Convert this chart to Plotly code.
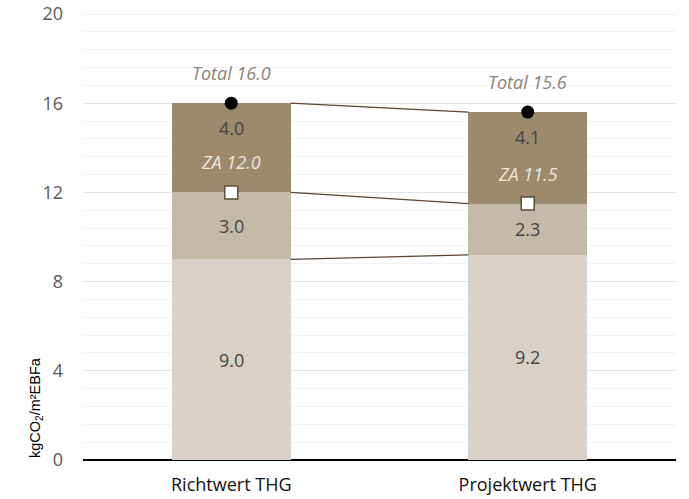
import plotly.graph_objects as go

categories = ["Richtwert THG", "Projektwert THG"]
base_vals = [9.0, 9.2]
mid_vals = [3.0, 2.3]
top_vals = [4.0, 4.1]
za_vals = [12.0, 11.5]
total_vals = [16.0, 15.6]
y_ticks = [0, 4, 8, 12, 16, 20]

colors = ["#d9d1c7", "#c5b9a7", "#9b8a6d"]
FONT = "Open Sans"
xpos = list(range(len(categories)))
bw = 0.4

fig = go.Figure()
for vals, col in zip([base_vals, mid_vals, top_vals], colors):
    fig.add_trace(go.Bar(x=xpos, y=vals, width=bw, marker=dict(color=col, line=dict(width=0)),
                         hoverinfo="skip", showlegend=False))

# connector lines
levels = [base_vals, za_vals, total_vals]
for lv in levels:
    for i in range(len(xpos) - 1):
        fig.add_trace(go.Scatter(x=[xpos[i] + bw / 2, xpos[i + 1] - bw / 2], y=[lv[i], lv[i + 1]],
                                 mode="lines", line=dict(color="#5a4530", width=1.2),
                                 hoverinfo="skip", showlegend=False))

fig.add_trace(go.Scatter(x=xpos, y=za_vals, mode="markers",
                         marker=dict(symbol="square", size=13, color="white",
                                     line=dict(color="#5e4e3c", width=1.5)),
                         showlegend=False, hoverinfo="skip"))
fig.add_trace(go.Scatter(x=xpos, y=total_vals, mode="markers",
                         marker=dict(symbol="circle", size=13, color="black"),
                         showlegend=False, hoverinfo="skip"))

valfont = dict(family=FONT, size=18, color="#444444")
for i, x in enumerate(xpos):
    b, m, t = base_vals[i], mid_vals[i], top_vals[i]
    fig.add_annotation(x=x, y=b / 2, text=f"{b:.1f}", showarrow=False, font=valfont)
    fig.add_annotation(x=x, y=b + m / 2, text=f"{m:.1f}", showarrow=False, font=valfont)
    fig.add_annotation(x=x, y=total_vals[i], yshift=-25, text=f"{t:.1f}", showarrow=False, font=valfont)
    fig.add_annotation(x=x, y=za_vals[i], yshift=30, text=f"<i>ZA {za_vals[i]:.1f}</i>", showarrow=False,
                       font=dict(family=FONT, size=18, color="#ece6de"))
    fig.add_annotation(x=x, y=total_vals[i], yshift=30, text=f"<i>Total {total_vals[i]:.1f}</i>", showarrow=False,
                       font=dict(family=FONT, size=18, color="#8c8279"))

fig.add_annotation(xref="paper", yref="paper", x=-0.08, y=0, xanchor="center", yanchor="bottom",
                   textangle=-90, text="kgCO<sub>2</sub>/m²EBFa", showarrow=False,
                   font=dict(family="Liberation Sans", size=14.5, color="#000000"))

# top gridline (drawn explicitly since it sits on the plot edge)
fig.add_shape(type="line", xref="paper", yref="y", x0=0, x1=1, y0=y_ticks[-1], y1=y_ticks[-1],
              line=dict(color="#e3e3e3", width=1), layer="below")

fig.update_layout(
    width=689, height=499,
    margin=dict(l=83, r=13, t=14, b=39, autoexpand=False),
    paper_bgcolor="white", plot_bgcolor="white",
    barmode="stack", bargap=0.6,
    showlegend=False,
    xaxis=dict(range=[-0.5, 1.5], tickvals=xpos, ticktext=categories, showgrid=False,
               zeroline=False, showline=False, ticks="", automargin=False, ticklabelstandoff=12,
               tickfont=dict(family=FONT, size=18, color="#111111")),
    yaxis=dict(range=[0, 20], tickvals=y_ticks, showgrid=True, gridcolor="#e3e3e3", gridwidth=1,
               zeroline=True, zerolinecolor="#000000", zerolinewidth=2, automargin=False,
               showline=False, ticks="", ticklabelstandoff=19, ticklabeloverflow="allow",
               tickfont=dict(family=FONT, size=18, color="#595959"),
               minor=dict(dtick=0.8, showgrid=True, gridcolor="#f3f3f3", gridwidth=1)),
)
fig.write_html("out.html", config={"displayModeBar": False},
               post_script="document.body.style.margin='0px';")
